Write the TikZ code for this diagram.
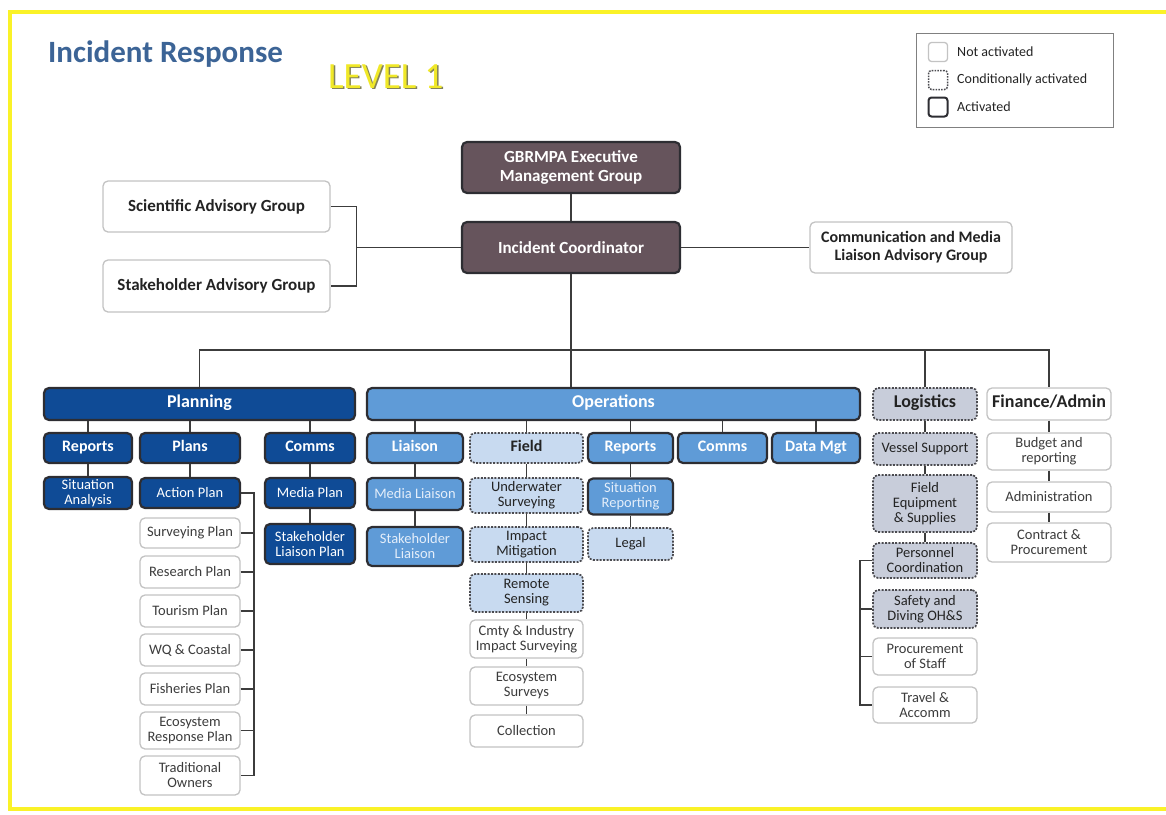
\documentclass[tikz,border=0pt]{standalone}
\usepackage{fontspec}
\setmainfont{Carlito}

\definecolor{planblue}{RGB}{15,75,150}
\definecolor{opsblue}{RGB}{95,155,215}
\definecolor{opslight}{RGB}{200,218,240}
\definecolor{logigray}{RGB}{200,205,218}
\definecolor{mauve}{RGB}{102,84,92}
\definecolor{edgedark}{RGB}{45,45,50}
\definecolor{edgelight}{RGB}{195,195,195}
\definecolor{edgedot}{RGB}{75,75,80}
\definecolor{linkgray}{RGB}{60,60,60}
\definecolor{textdark}{RGB}{35,35,35}
\definecolor{textgray}{RGB}{60,60,60}
\definecolor{paletext}{RGB}{228,238,250}
\definecolor{titleblue}{RGB}{60,100,150}
\definecolor{levelyellow}{RGB}{240,232,40}
\definecolor{levelshade}{RGB}{130,130,90}
\definecolor{frameyellow}{RGB}{250,242,40}

\begin{document}
\begin{tikzpicture}[x=1pt, y=-1pt,
  box/.style={rounded corners=5pt, align=center, inner sep=1pt, font=\fontsize{14.5}{15}\selectfont},
  oneline/.style={text height=1.45ex, text depth=.1ex},
  head/.style={box, oneline, font=\bfseries\fontsize{18}{20}\selectfont, minimum height=32},
  sub/.style={box, oneline, font=\bfseries\fontsize{16}{17}\selectfont, minimum height=30},
  big/.style={box, font=\bfseries\fontsize{17}{19}\selectfont, minimum width=218, minimum height=51},
  on/.style={draw=edgedark, line width=2.2pt},
  off/.style={draw=edgelight, line width=1.3pt, fill=white, text=textgray},
  maybe/.style={draw=edgedot, line width=1.7pt, dash pattern=on 2pt off 1.4pt, text=textdark},
  planbox/.style={on, fill=planblue, text=white},
  opsbox/.style={on, fill=opsblue, text=white},
  opspale/.style={maybe, fill=opslight},
  logibox/.style={maybe, fill=logigray},
  topbox/.style={on, fill=mauve, text=white},
  key/.style={minimum width=19, minimum height=19, inner sep=0pt, rounded corners=3pt},
  keytext/.style={anchor=west, inner sep=0pt, text=textdark, font=\fontsize{14}{14}\selectfont},
  link/.style={draw=linkgray, line width=1.6pt}
]
\useasboundingbox (0,0) rectangle (1166,814);

% Frame, title and legend
\draw[frameyellow, line width=4.5pt] (1166,12) -- (10,12) -- (10,809) -- (1166,809);
\node[anchor=base west, inner sep=0pt, text=titleblue, font=\bfseries\fontsize{31}{31}\selectfont] (title) at (48,62) {Incident Response};
\node[anchor=base west, inner sep=0pt, text=levelshade, font=\fontsize{37}{37}\selectfont] (levelback) at (329.5,89.5) {LEVEL 1};
\node[anchor=base west, inner sep=0pt, text=levelyellow, font=\fontsize{37}{37}\selectfont] (level) at (328,88) {LEVEL 1};

\draw[draw=gray, line width=1pt] (916,33) rectangle (1113,127);
\node[key, draw=edgelight, line width=1.3pt] (keyoff) at (938,52) {};
\node[key, draw=edgedot, line width=1.5pt, dash pattern=on 1.6pt off 1.2pt] (keymaybe) at (938,80) {};
\node[key, draw=edgedark, line width=2pt] (keyon) at (938,107) {};
\node[keytext] (keyofftext) at (957,52) {Not activated};
\node[keytext] (keymaybetext) at (957,80) {Conditionally activated};
\node[keytext] (keyontext) at (957,107) {Activated};

% Executive and advisory groups
\node[big, topbox] (gbr) at (571,167.5) {GBRMPA Executive\\Management Group};
\node[big, topbox] (ic) at (571,247.5) {Incident Coordinator};
\node[big, off, text=textdark, minimum width=227] (sci) at (216.5,206.5) {Scientific Advisory Group};
\node[big, off, text=textdark, minimum width=227, minimum height=52] (stk) at (216.5,286) {Stakeholder Advisory Group};
\node[big, off, text=textdark, minimum width=202, font=\bfseries\fontsize{16}{18}\selectfont] (cml) at (911,247.5) {Communication and Media\\Liaison Advisory Group};
\coordinate (advj) at (356,247.5);
\coordinate (bus) at (571,350);

\draw[link] (gbr) -- (ic);
\draw[link] (sci.east) -- ++(26,0) |- (stk.east);
\draw[link] (ic.west) -- (advj);
\draw[link] (ic.east) -- (cml.west);

% Functional heads
\node[head, planbox, minimum width=311] (plan) at (199.5,404) {Planning};
\node[head, opsbox, minimum width=493] (ops) at (613.5,404) {Operations};
\node[head, logibox, minimum width=104] (logi) at (925,404) {Logistics};
\node[head, off, text=textdark, minimum width=124] (fin) at (1049,404) {Finance/Admin};

\draw[link] (ic.south) -- (ic.south |- ops.north);
\draw[link] (plan.north) |- (bus) -| (fin.north);
\draw[link] (logi.north) -- (logi.north |- bus);

% Planning
\node[sub, planbox, minimum width=88] (prep) at (88,448) {Reports};
\node[sub, planbox, minimum width=100] (pplans) at (190,448) {Plans};
\node[sub, planbox, minimum width=90] (pcomms) at (310,448) {Comms};
\node[box, planbox, minimum width=88, minimum height=32] (sitan) at (88,493) {Situation\\Analysis};
\node[box, planbox, minimum width=100, minimum height=30] (actp) at (190,493) {Action Plan};
\node[box, planbox, minimum width=90, minimum height=30] (medp) at (310,493) {Media Plan};
\node[box, planbox, minimum width=90, minimum height=40] (stkp) at (310,544) {Stakeholder\\Liaison Plan};
\node[box, off, minimum width=100, minimum height=30] (surv) at (190,533) {Surveying Plan};
\node[box, off, minimum width=100, minimum height=32] (resp) at (190,572) {Research Plan};
\node[box, off, minimum width=100, minimum height=32] (tour) at (190,611) {Tourism Plan};
\node[box, off, minimum width=100, minimum height=32] (wq) at (190,650) {WQ \& Coastal};
\node[box, off, minimum width=100, minimum height=32] (fish) at (190,689) {Fisheries Plan};
\node[box, off, minimum width=100, minimum height=37] (ecor) at (190,730.5) {Ecosystem\\Response Plan};
\node[box, off, minimum width=100, minimum height=39] (trad) at (190,775.5) {Traditional\\Owners};

\foreach \n in {prep,pplans,pcomms}
  \draw[link] (\n.north) -- (\n.north |- plan.south);
\draw[link] (prep) -- (sitan);
\draw[link] (pplans) -- (actp);
\draw[link] (pcomms) -- (medp) -- (stkp);
\draw[link] (actp.east) -- ++(13,0) |- (trad.east);
\foreach \n in {surv,resp,tour,wq,fish,ecor}
  \draw[link] (\n.east) -- ++(13,0);

% Operations
\node[sub, opsbox, minimum width=96] (liai) at (415,448) {Liaison};
\node[sub, opspale, minimum width=113] (field) at (526.5,448) {Field};
\node[sub, opsbox, minimum width=85] (orep) at (630.5,448) {Reports};
\node[sub, opsbox, minimum width=89] (ocom) at (722.5,448) {Comms};
\node[sub, opsbox, minimum width=88] (datam) at (816,448) {Data Mgt};
\node[box, opsbox, text=paletext, minimum width=96, minimum height=32] (medl) at (415,494) {Media Liaison};
\node[box, opsbox, text=paletext, minimum width=96, minimum height=39] (stkl) at (415,546.5) {Stakeholder\\Liaison};
\node[box, opspale, minimum width=113, minimum height=35] (underw) at (526.5,495.5) {Underwater\\Surveying};
\node[box, opspale, minimum width=113, minimum height=35] (impm) at (526.5,544.5) {Impact\\Mitigation};
\node[box, opspale, minimum width=113, minimum height=38] (rems) at (526.5,593) {Remote\\Sensing};
\node[box, off, minimum width=113, minimum height=38] (cmty) at (526.5,639) {Cmty \& Industry\\Impact Surveying};
\node[box, off, minimum width=113, minimum height=38] (ecos) at (526.5,686) {Ecosystem\\Surveys};
\node[box, off, minimum width=113, minimum height=32] (coll) at (526.5,731) {Collection};
\node[box, opsbox, text=paletext, minimum width=85, minimum height=36] (sitr) at (630.5,496.5) {Situation\\Reporting};
\node[box, opspale, minimum width=85, minimum height=32] (legal) at (630.5,544) {Legal};

\foreach \n in {liai,field,orep,ocom,datam}
  \draw[link] (\n.north) -- (\n.north |- ops.south);
\draw[link] (liai) -- (medl) -- (stkl);
\draw[link] (field) -- (underw) -- (impm) -- (rems) -- (cmty) -- (ecos) -- (coll);
\draw[link] (orep) -- (sitr) -- (legal);

% Logistics
\node[box, logibox, minimum width=104, minimum height=32] (vess) at (925,449) {Vessel Support};
\node[box, logibox, minimum width=104, minimum height=57] (feq) at (925,503.5) {Field\\Equipment\\\& Supplies};
\node[box, logibox, minimum width=104, minimum height=35] (pers) at (925,560.5) {Personnel\\Coordination};
\node[box, logibox, minimum width=104, minimum height=38] (safe) at (925,609) {Safety and\\Diving OH\&S};
\node[box, off, minimum width=104, minimum height=37] (proc) at (925,656.5) {Procurement\\of Staff};
\node[box, off, minimum width=104, minimum height=36] (trav) at (925,705) {Travel \&\\Accomm};

\draw[link] (logi) -- (vess) -- (feq) -- (pers);
\draw[link] (pers.west) -- ++(-12,0) |- (trav.west);
\foreach \n in {safe,proc}
  \draw[link] (\n.west) -- ++(-12,0);

% Finance and admin
\node[box, off, minimum width=124, minimum height=37] (budg) at (1049,451.5) {Budget and\\reporting};
\node[box, off, minimum width=124, minimum height=30] (admin) at (1049,497) {Administration};
\node[box, off, minimum width=124, minimum height=39] (contr) at (1049,542.5) {Contract \&\\Procurement};

\draw[link] (fin) -- (budg) -- (admin) -- (contr);

\end{tikzpicture}
\end{document}
